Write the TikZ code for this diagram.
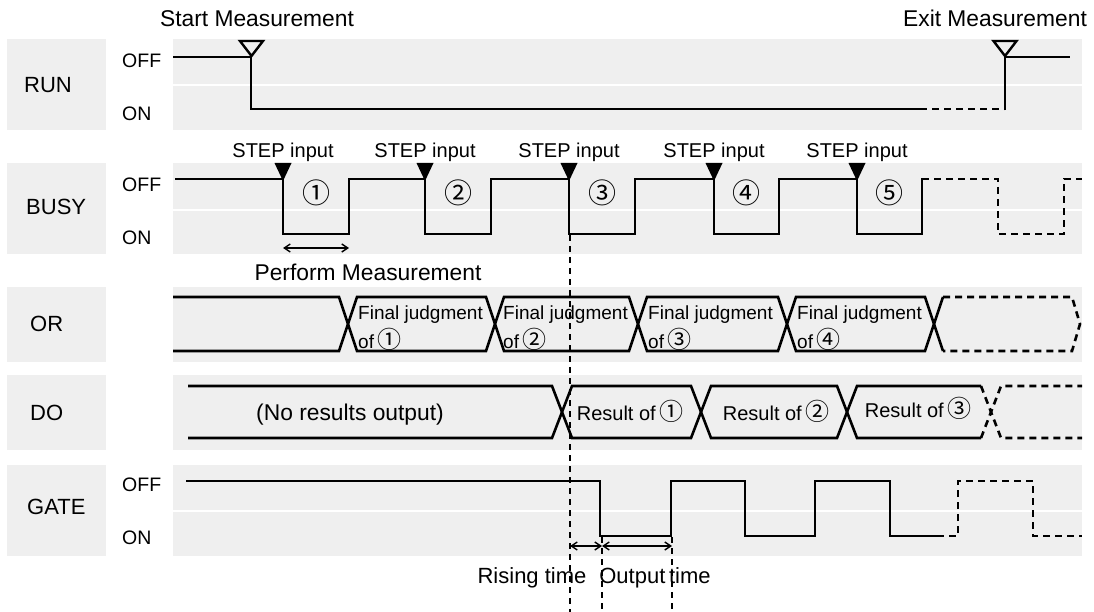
\documentclass[tikz,border=0pt]{standalone}
\usepackage{fontspec}
\setmainfont{Liberation Sans}
\newfontfamily\circfont{Noto Sans CJK JP}
\usetikzlibrary{arrows.meta}
\definecolor{bg}{RGB}{239,239,239}
\newcommand{\cn}[1]{{\circfont\fontsize{24}{26}\selectfont #1}}
\tikzset{
  sig/.style={line width=2.6pt, line join=miter, line cap=butt},
  dsig/.style={sig, dash pattern=on 7pt off 5pt},
  guide/.style={line width=1.5pt, dash pattern=on 6pt off 5pt},
  lbl/.style={font=\fontsize{22}{26}\selectfont, anchor=west, inner sep=0pt},
  lvl/.style={font=\fontsize{19.5}{23}\selectfont, anchor=west, inner sep=0pt},
  txt/.style={font=\fontsize{20}{24}\selectfont, inner sep=0pt, anchor=base},
  big/.style={font=\fontsize{22.8}{26}\selectfont, inner sep=0pt, anchor=base},
  tlabel/.style={font=\fontsize{22}{26}\selectfont, inner sep=0pt, anchor=base},
  small/.style={font=\fontsize{19}{22}\selectfont, inner sep=0pt, anchor=base west},
  num/.style={font=\circfont\fontsize{28}{30}\selectfont, inner sep=0pt},
  bgbox/.style={fill=bg, draw=none},
  sep/.style={white, line width=2pt},
  dimarrow/.style={line width=1.4pt, {Straight Barb[length=6pt,width=8pt]}-{Straight Barb[length=6pt,width=8pt]}},
  hollowtri/.style={line width=2.4pt, line join=miter},
  filltri/.style={fill=black, draw=none},
}
\begin{document}
\begin{tikzpicture}[x=1pt,y=-1pt]
\useasboundingbox[fill=white] (0,0) rectangle (1094,612);

% ---- backgrounds ----
\fill[bg] (7,39) rectangle (106,130);
\fill[bg] (173,39) rectangle (1082,130);
\draw[sep] (173,85) -- (1082,85);
\fill[bg] (7,163) rectangle (106,254);
\fill[bg] (173,163) rectangle (1082,254);
\draw[sep] (173,210) -- (1082,210);
\fill[bg] (7,287) rectangle (106,362);
\fill[bg] (173,287) rectangle (1082,362);
\fill[bg] (7,375) rectangle (106,450);
\fill[bg] (173,375) rectangle (1082,450);
\fill[bg] (7,465) rectangle (106,556);
\fill[bg] (173,465) rectangle (1082,556);
\draw[sep] (173,511) -- (1082,511);

% ---- labels ----
\node[lbl] (lrun) at (24,85) {RUN};
\node[lbl] (lbusy) at (26,207) {BUSY};
\node[lbl] (lor) at (30,324) {OR};
\node[lbl] (ldo) at (30,413) {DO};
\node[lbl] (lgate) at (27,507) {GATE};
\node[lvl] (runoff) at (122,61) {OFF};
\node[lvl] (runon) at (122,114) {ON};
\node[lvl] (busyoff) at (122,185) {OFF};
\node[lvl] (busyon) at (122,238) {ON};
\node[lvl] (gateoff) at (122,485) {OFF};
\node[lvl] (gateon) at (122,538) {ON};

% ---- RUN ----
\node[big] (start) at (257,27) {Start Measurement};
\node[big] (exit) at (995,27) {Exit Measurement};
\draw[sig] (173,57) -- (251,57) -- (251,109) -- (920,109);
\draw[dsig] (920,109) -- (1005,109);
\draw[sig] (1005,110.3) -- (1005,57) -- (1070,57);
\draw[hollowtri] (240,41) -- (263,41) -- (251.5,56) -- cycle;
\draw[hollowtri] (993.5,41) -- (1016.5,41) -- (1005,56) -- cycle;

% ---- BUSY ----
\draw[sig] (175,179) -- (283,179) -- (283,234) -- (349,234) -- (349,179)
  -- (425,179) -- (425,234) -- (491,234) -- (491,179)
  -- (569,179) -- (569,234) -- (635,234) -- (635,179)
  -- (714,179) -- (714,234) -- (779,234) -- (779,179)
  -- (857,179) -- (857,234) -- (922,234) -- (922,177.7);
\draw[dsig] (922,179) -- (998,179) -- (998,234) -- (1064,234) -- (1064,179) -- (1082,179);
\foreach \x/\n in {283/1,425/2,569/3,714/4,857/5}{
  \fill[filltri] (\x-8.5,163) -- (\x+8.5,163) -- (\x,181) -- cycle;
  \node[txt] (step\n) at (\x,158) {STEP input};
}
\node[num] (b1) at (316,193) {①};
\node[num] (b2) at (458,193) {②};
\node[num] (b3) at (602,193) {③};
\node[num] (b4) at (746,193) {④};
\node[num] (b5) at (889,193) {⑤};
\coordinate (pm1) at (283,248);
\coordinate (pm2) at (349,248);
\draw[dimarrow] (pm1) -- (pm2);
\node[big] (perf) at (368,280) {Perform Measurement};

% ---- OR ----
\draw[sig] (173,297) -- (339,297) -- (357,351) -- (486,351) -- (504,297) -- (629,297) -- (647,351)
  -- (778,351) -- (796,297) -- (925,297) -- (943,351);
\draw[sig] (173,351) -- (339,351) -- (357,297) -- (486,297) -- (504,351) -- (629,351) -- (647,297)
  -- (778,297) -- (796,351) -- (925,351) -- (943,297);
\draw[dsig] (943,297) -- (1072,297) -- (1080,324) -- (1072,351) -- (943,351);
\foreach \x/\n/\c in {358/1/①,503/2/②,648/3/③,797/4/④}{
  \node[small] (fj\n) at (\x,319) {Final judgment};
  \node[small] (of\n) at (\x,348) {of\,\cn{\c}};
}

% ---- DO ----
\draw[sig] (188,386) -- (552,386) -- (572,438) -- (691,438) -- (711,386) -- (837,386) -- (857,438) -- (981,438);
\draw[sig] (188,438) -- (552,438) -- (572,386) -- (691,386) -- (711,438) -- (837,438) -- (857,386) -- (981,386);
\draw[dsig] (981,386) -- (1001,438) -- (1082,438);
\draw[dsig] (981,438) -- (1001,386) -- (1082,386);
\node[big] (nores) at (350,420) {(No results output)};
\node[txt] (r1) at (630,420) {Result of\,\cn{①}};
\node[txt] (r2) at (776,420) {Result of\,\cn{②}};
\node[txt] (r3) at (918,417) {Result of\,\cn{③}};

% ---- GATE ----
\draw[sig] (186,481) -- (600,481) -- (600,536) -- (671,536) -- (671,481) -- (745,481) -- (745,536)
  -- (815,536) -- (815,481) -- (890,481) -- (890,536) -- (937,536);
\draw[dsig] (937,536) -- (958,536) -- (958,481) -- (1033,481) -- (1033,536) -- (1082,536);

% ---- guides and timing ----
\coordinate (g1t) at (570,235);
\coordinate (g1b) at (570,612);
\coordinate (g2t) at (602,537);
\coordinate (g2b) at (602,612);
\coordinate (g3t) at (672,537);
\coordinate (g3b) at (672,612);
\draw[guide] (g1t) -- (g1b);
\draw[guide] (g2t) -- (g2b);
\draw[guide] (g3t) -- (g3b);
\coordinate (a1) at (570,546);
\coordinate (a2) at (602,546);
\coordinate (a3) at (672,546);
\draw[dimarrow] (a1) -- (a2);
\draw[dimarrow] (a2) -- (a3);
\node[tlabel] (rise) at (532,583) {Rising time};
\node[tlabel] (outt) at (655,583) {Output\,time};
\end{tikzpicture}
\end{document}
